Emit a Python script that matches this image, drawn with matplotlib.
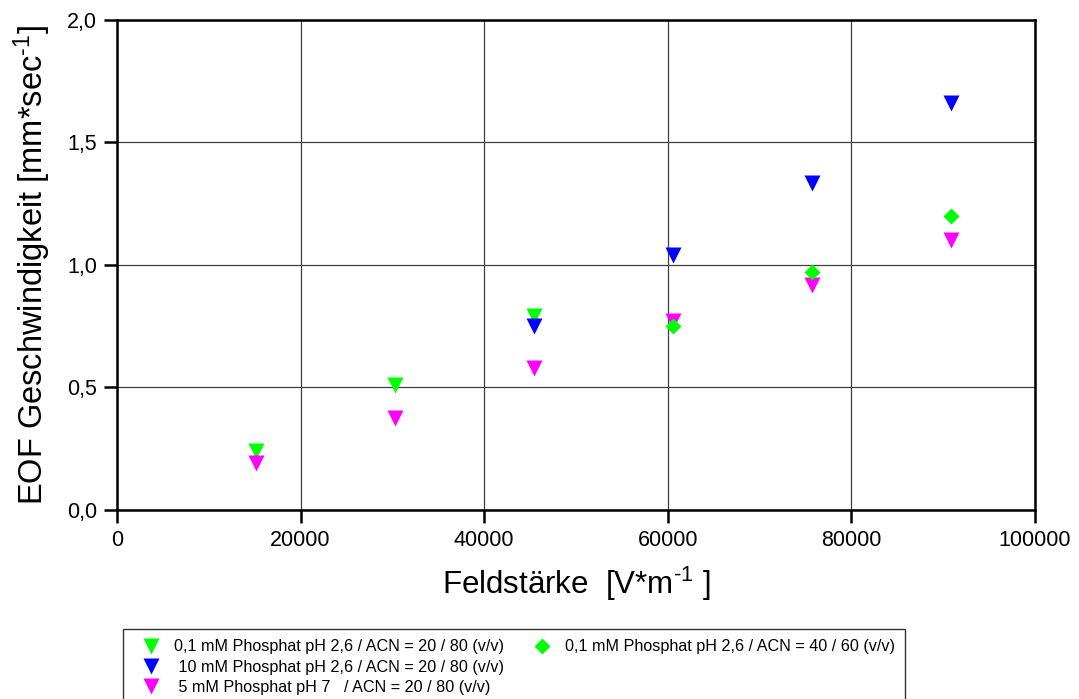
import matplotlib
matplotlib.use('Agg')
import matplotlib.pyplot as plt
from matplotlib.lines import Line2D
from matplotlib.ticker import FuncFormatter

plt.rcParams['font.family'] = ['Liberation Sans', 'DejaVu Sans']
plt.rcParams['mathtext.fontset'] = 'custom'
plt.rcParams['mathtext.rm'] = 'Liberation Sans'
plt.rcParams['mathtext.it'] = 'Liberation Sans'

# Feldstärke in V/m
field_a = [15150, 30300, 45450]
field_b = [45450, 60600, 75750, 90900]
field_c = [15150, 30300, 45450, 60600, 75750, 90900]
field_d = [60600, 75750, 90900]

# EOF velocity in mm/s
eof_a = [0.24, 0.51, 0.79]            # 0,1 mM Phosphat pH 2,6, ACN 20/80
eof_b = [0.75, 1.04, 1.335, 1.66]     # 10 mM Phosphat pH 2,6, ACN 20/80
eof_c = [0.19, 0.375, 0.58, 0.77, 0.92, 1.10]  # 5 mM Phosphat pH 7, ACN 20/80
eof_d = [0.75, 0.97, 1.20]            # 0,1 mM Phosphat pH 2,6, ACN 40/60

labels = [
    '0,1 mM Phosphat pH 2,6 / ACN = 20 / 80 (v/v)',
    ' 10 mM Phosphat pH 2,6 / ACN = 20 / 80 (v/v)',
    ' 5 mM Phosphat pH 7   / ACN = 20 / 80 (v/v)',
    '0,1 mM Phosphat pH 2,6 / ACN = 40 / 60 (v/v)',
]
colors = ['#00ff00', '#0000ff', '#ff00ff', '#00ff00']

fig = plt.figure(figsize=(10.79, 6.99), dpi=100)
ax = fig.add_axes([0.1084, 0.2704, 0.8508, 0.701])

ax.plot(field_a, eof_a, 'v', color=colors[0], ms=11, mec='none', zorder=3)
ax.plot(field_b, eof_b, 'v', color=colors[1], ms=11, mec='none', zorder=4)
ax.plot(field_c, eof_c, 'v', color=colors[2], ms=11, mec='none', zorder=5)
ax.plot(field_d, eof_d, 'D', color=colors[3], ms=8, mec='none', zorder=6)

ax.set_xlim(0, 100000)
ax.set_ylim(0, 2.0)
ax.set_xticks([0, 20000, 40000, 60000, 80000, 100000])
ax.set_yticks([0, 0.5, 1.0, 1.5, 2.0])
ax.yaxis.set_major_formatter(FuncFormatter(lambda v, p: f'{v:.1f}'.replace('.', ',')))
ax.grid(True, color='#404040', lw=0.9)
ax.set_axisbelow(True)
for sp in ax.spines.values():
    sp.set_linewidth(1.8)
ax.tick_params(axis='both', which='major', direction='out', length=9.5, width=1.8,
               pad=5, top=False, right=False)
ax.tick_params(axis='x', labelsize=15.5)
ax.tick_params(axis='y', labelsize=15.5)

ax.set_xlabel(r'Feldstärke  [V*m$^{\text{-1}}$ ]', fontsize=22.5, labelpad=10)
ax.set_ylabel(r'EOF Geschwindigkeit [mm*sec$^{\text{-1}}$]', fontsize=23.5, labelpad=10)

handles = [
    Line2D([], [], ls='none', marker='v', color=colors[0], ms=11, mec='none'),
    Line2D([], [], ls='none', marker='v', color=colors[1], ms=11, mec='none'),
    Line2D([], [], ls='none', marker='v', color=colors[2], ms=11, mec='none'),
    Line2D([], [], ls='none', marker='D', color=colors[3], ms=8, mec='none'),
    Line2D([], [], ls='none'),
    Line2D([], [], ls='none'),
]
leg = fig.legend(handles, labels + ['', ''], ncol=2, loc='upper left',
                 bbox_to_anchor=(123 / 1079, 1 - 629 / 699), fontsize=11.6,
                 frameon=True, fancybox=False, borderpad=0.65, handlelength=2.2,
                 handletextpad=0.3, labelspacing=0.32, columnspacing=1.3,
                 borderaxespad=0)
leg.get_frame().set_edgecolor('black')
leg.get_frame().set_linewidth(1.0)

fig.savefig('out.png', dpi=100)
